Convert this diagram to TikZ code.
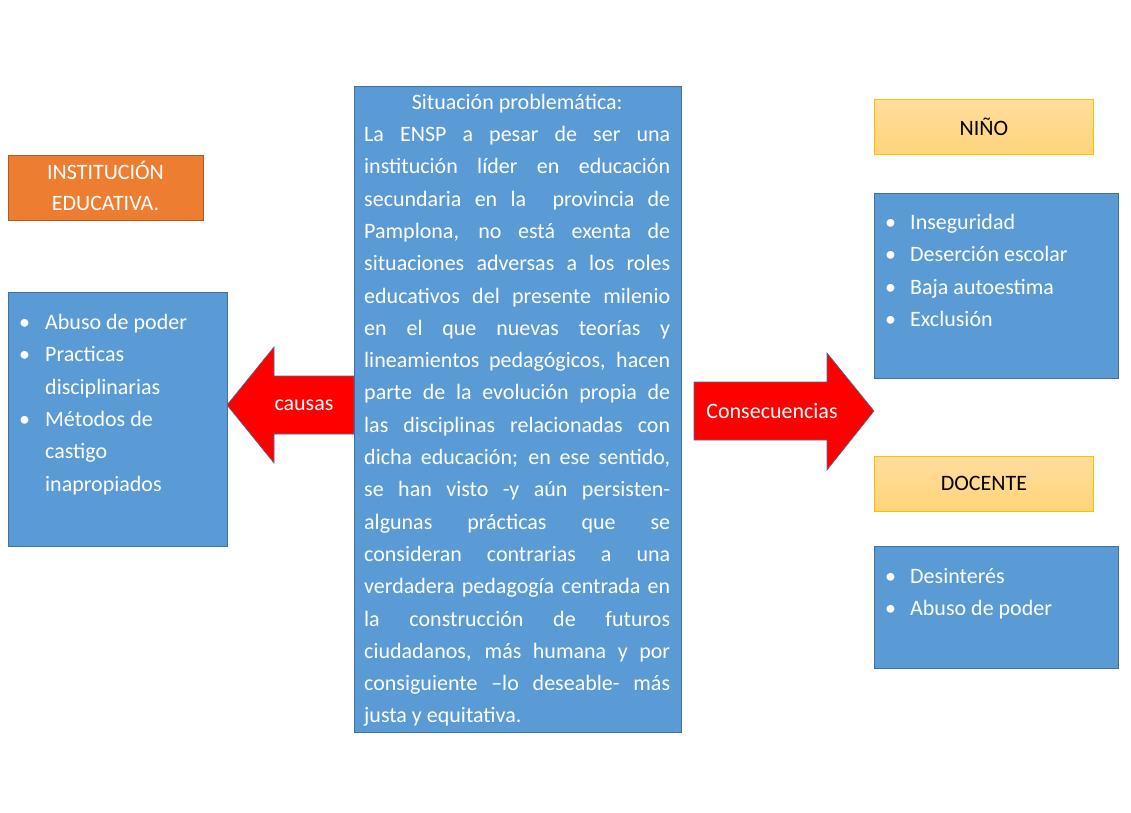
\documentclass[tikz,border=0pt]{standalone}
\usepackage{fontspec}
\setmainfont{Carlito}
\definecolor{blueF}{HTML}{5B9BD5}
\definecolor{blueD}{HTML}{41719C}
\definecolor{orangeF}{HTML}{ED7D31}
\definecolor{orangeD}{HTML}{AE5A21}
\definecolor{yelT}{HTML}{FFDD9E}
\definecolor{yelB}{HTML}{FFD47A}
\definecolor{yelD}{HTML}{FFC000}
\definecolor{redF}{HTML}{FF0000}
\newcommand\jline[1]{\hbox to 306pt{#1}}
\newcommand\bitem[2]{\hbox{\rule{0pt}{22pt}\hbox to #1{\kern3pt •\hss}#2}}
\newcommand\citem[2]{\hbox{\hskip #1 #2}}
\tikzset{
  bluebox/.style={draw=blueD, fill=blueF, line width=0.8pt, inner sep=0pt, anchor=north west},
  orangebox/.style={draw=orangeD, fill=orangeF, line width=0.8pt, inner sep=0pt, anchor=north west},
  yelbox/.style={draw=yelD, top color=yelT, bottom color=yelB, line width=0.8pt, inner sep=0pt, anchor=north west},
  arrowshape/.style={draw=blueD, fill=redF, line width=0.6pt, line join=miter},
  wtext/.style={text=white, inner sep=0pt, font=\fontsize{22}{31}\selectfont},
  btext/.style={text=black, inner sep=0pt, font=\fontsize{22}{31}\selectfont},
  listtext/.style={text=white, inner sep=0pt, anchor=north west, font=\fontsize{22}{32.4}\selectfont},
}
\begin{document}
\begin{tikzpicture}[x=1pt,y=-1pt]
\useasboundingbox (0,0) rectangle (1131,812);
\fill[white] (0,0) rectangle (1131,812);

% left column
\node[orangebox, minimum width=195pt, minimum height=65pt] (inst) at (8,155) {};
\node[wtext, align=center] (instT) at (105.5,185.5) {INSTITUCIÓN\\EDUCATIVA.};

\node[bluebox, minimum width=219pt, minimum height=254pt] (causesbox) at (8,292) {};
\node[listtext] (causesT) at ([xshift=8pt,yshift=-15pt]causesbox.north west) {\vbox{\baselineskip=32.4pt
  \bitem{29pt}{Abuso de poder}
  \bitem{29pt}{Practicas}
  \citem{29pt}{disciplinarias}
  \bitem{29pt}{Métodos de}
  \citem{29pt}{castigo}
  \citem{29pt}{inapropiados}}};

% center box
\node[bluebox, minimum width=327pt, minimum height=646pt] (center) at (354,86) {};
\node[text=white, inner sep=0pt, anchor=north west, font=\fontsize{22}{32.3}\selectfont] (centerT) at (364,87) {\vbox{\baselineskip=32.3pt \lineskiplimit=-100pt
  \jline{\rule{0pt}{22pt}\hfil Situación problemática:\hfil}
  \jline{La ENSP a pesar de ser una}
  \jline{institución líder en educación}
  \jline{secundaria en la \ provincia de}
  \jline{Pamplona, no está exenta de}
  \jline{situaciones adversas a los roles}
  \jline{educativos del presente milenio}
  \jline{en el que nuevas teorías y}
  \jline{lineamientos pedagógicos, hacen}
  \jline{parte de la evolución propia de}
  \jline{las disciplinas relacionadas con}
  \jline{dicha educación; en ese sentido,}
  \jline{se han visto -y aún persisten-}
  \jline{algunas prácticas que se}
  \jline{consideran contrarias a una}
  \jline{verdadera pedagogía centrada en}
  \jline{la construcción de futuros}
  \jline{ciudadanos, más humana y por}
  \jline{consiguiente –lo deseable- más}
  \jline{justa y equitativa.\hfil}}};

% left arrow (causas)
\draw[arrowshape] (354,376) -- (274,376) -- (274,347) -- (227,405) -- (274,463) -- (274,434) -- (354,434) -- cycle;
\node[wtext] (causas) at (304,405) {causas};

% right arrow (consecuencias)
\draw[arrowshape] (694,382) -- (827,382) -- (827,353) -- (874,411) -- (827,470) -- (827,440) -- (694,440) -- cycle;
\node[wtext] (conse) at (772,411) {Consecuencias};

% right column
\node[yelbox, minimum width=219pt, minimum height=55pt] (nino) at (874,99) {};
\node[btext] (ninoT) at (nino.center) {NIÑO};

\node[bluebox, minimum width=244pt, minimum height=185pt] (ninobox) at (874,193) {};
\node[listtext] (ninoL) at ([xshift=8pt,yshift=-14pt]ninobox.north west) {\vbox{\baselineskip=32.4pt
  \bitem{28pt}{Inseguridad}
  \bitem{28pt}{Deserción escolar}
  \bitem{28pt}{Baja autoestima}
  \bitem{28pt}{Exclusión}}};

\node[yelbox, minimum width=219pt, minimum height=55pt] (doc) at (874,456) {};
\node[btext] (docT) at (doc.center) {DOCENTE};

\node[bluebox, minimum width=244pt, minimum height=122pt] (docbox) at (874,546) {};
\node[listtext] (docL) at ([xshift=8pt,yshift=-15pt]docbox.north west) {\vbox{\baselineskip=32.4pt
  \bitem{28pt}{Desinterés}
  \bitem{28pt}{Abuso de poder}}};
\end{tikzpicture}
\end{document}
